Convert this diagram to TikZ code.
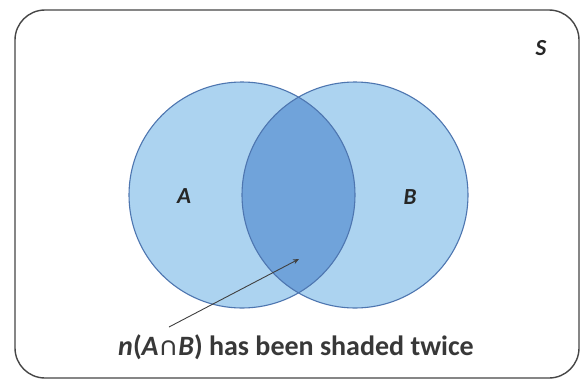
\documentclass[tikz,border=0pt]{standalone}
\usepackage{fontspec}
\setmainfont{Carlito}
\usetikzlibrary{arrows.meta}
\definecolor{lightb}{RGB}{172,211,240}
\definecolor{darkb}{RGB}{112,163,218}
\definecolor{edgeb}{RGB}{78,118,176}
\definecolor{frame}{RGB}{70,70,70}
\tikzset{
  setcircle/.style={draw=edgeb, line width=1.1pt},
  lbl/.style={font=\fontsize{23}{27}\selectfont\bfseries\itshape, text=black!85},
  captext/.style={font=\fontsize{28}{32}\selectfont\bfseries, text=black!78},
  pointer/.style={draw=black!75, line width=0.9pt, -{Stealth[length=6pt,width=5pt]}}
}
\begin{document}
\begin{tikzpicture}[x=1pt,y=-1pt]
\useasboundingbox (0,0) rectangle (586,381);
\fill[white] (0,0) rectangle (586,381);
\draw[frame, line width=1.4pt, rounded corners=30pt] (15,10) rectangle (579,378);
\fill[lightb] (242,195) circle (113);
\fill[lightb] (355,195) circle (113);
\begin{scope}
  \clip (242,195) circle (113);
  \fill[darkb] (355,195) circle (113);
\end{scope}
\draw[setcircle] (242,195) circle (113);
\draw[setcircle] (355,195) circle (113);
\node[lbl] (la) at (184,196) {A};
\node[lbl] (lb) at (410,197) {B};
\node[lbl] (ls) at (541,48) {S};
\node[captext] (caption) at (296,347) {\textit{n}(\textit{A}∩\textit{B}) has been shaded twice};
\coordinate (tip) at (299,259);
\coordinate (tail) at (169,327);
\draw[pointer] (tail) -- (tip);
\end{tikzpicture}
\end{document}
